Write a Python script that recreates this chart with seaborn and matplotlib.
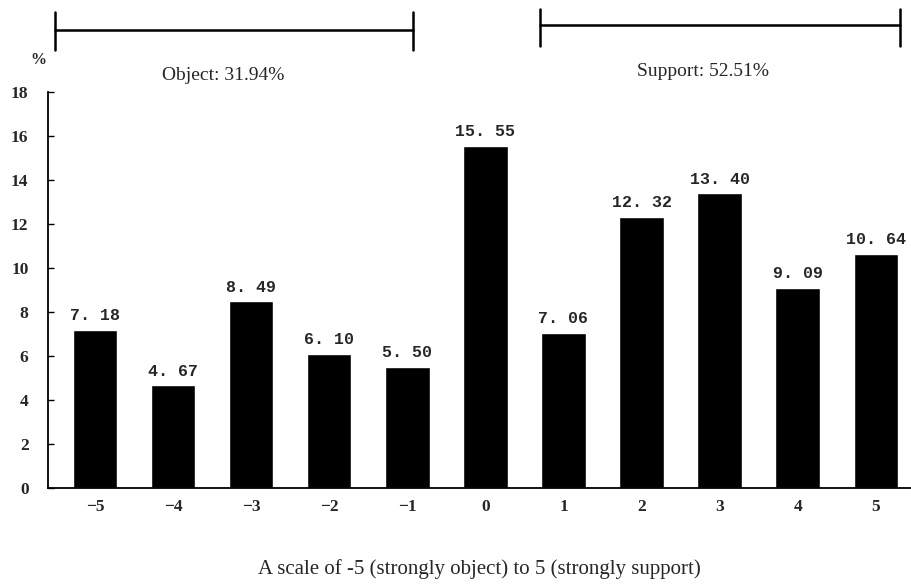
import matplotlib
matplotlib.use("Agg")
import matplotlib.pyplot as plt
from matplotlib.lines import Line2D
import seaborn as sns
import pandas as pd

# Attitude scale responses (% of respondents)
scale_points = ["-5", "-4", "-3", "-2", "-1", "0", "1", "2", "3", "4", "5"]
tick_labels = ["\u22125", "\u22124", "\u22123", "\u22122", "\u22121", "0", "1", "2", "3", "4", "5"]
percentages = [7.18, 4.67, 8.49, 6.10, 5.50, 15.55, 7.06, 12.32, 13.40, 9.09, 10.64]
y_ticks = [0, 2, 4, 6, 8, 10, 12, 14, 16, 18]

object_total = sum(percentages[:5])
support_total = sum(percentages[6:])

df = pd.DataFrame({"point": scale_points, "pct": percentages})

sns.set_theme(style="white")
plt.rcParams["font.family"] = ["Liberation Serif", "DejaVu Serif"]

fig = plt.figure(figsize=(9.11, 5.84), dpi=100)
ax = fig.add_axes([0.0527, 0.1644, 0.9473, 0.6781])

sns.barplot(data=df, x="point", y="pct", order=scale_points, color="black",
            width=0.57, saturation=1, ax=ax)

ax.set_xlim(-0.6, 10.45)
ax.set_ylim(0, 18)
ax.set_yticks(y_ticks)
ax.set_yticklabels([str(t) for t in y_ticks], fontsize=12.5, fontweight="bold")
ax.set_xticks(range(len(scale_points)))
ax.set_xticklabels(tick_labels, fontsize=12.5, fontweight="bold")
ax.tick_params(axis="y", direction="in", length=4, width=1, color="black", pad=14, left=True)
ax.tick_params(axis="x", length=0, pad=8)
ax.set_xlabel("A scale of -5 (strongly object) to 5 (strongly support)", fontsize=15, labelpad=32)
ax.set_ylabel("")

for side in ["top", "right"]:
    ax.spines[side].set_visible(False)
for side in ["left", "bottom"]:
    ax.spines[side].set_color("black")
    ax.spines[side].set_linewidth(1.3)

for i, v in enumerate(percentages):
    ax.text(i, v + 0.3, f"{v:.2f}".replace(".", ". "), ha="center", va="bottom",
            fontsize=12, fontweight="bold", family="Liberation Mono")

# Group brackets above the plot area (figure-pixel positions)
W, H = 911, 584
def bracket(x0, x1, y, top, bot):
    fig.add_artist(Line2D([x0 / W, x1 / W], [1 - y / H, 1 - y / H], color="black", lw=1.8))
    for x in (x0, x1):
        fig.add_artist(Line2D([x / W, x / W], [1 - top / H, 1 - bot / H], color="black", lw=1.8))

bracket(55, 413, 30, 12, 50)
bracket(540, 900, 25, 9, 46)

fig.text(223 / W, 1 - 75 / H, f"Object: {object_total:.2f}%", ha="center", va="center", fontsize=14)
fig.text(703 / W, 1 - 72 / H, f"Support: {support_total:.2f}%", ha="center", va="center", fontsize=14)
fig.text(38 / W, 1 - 60 / H, "%", ha="center", va="center", fontsize=11.5, fontweight="bold")

fig.savefig("out.png", dpi=100)
